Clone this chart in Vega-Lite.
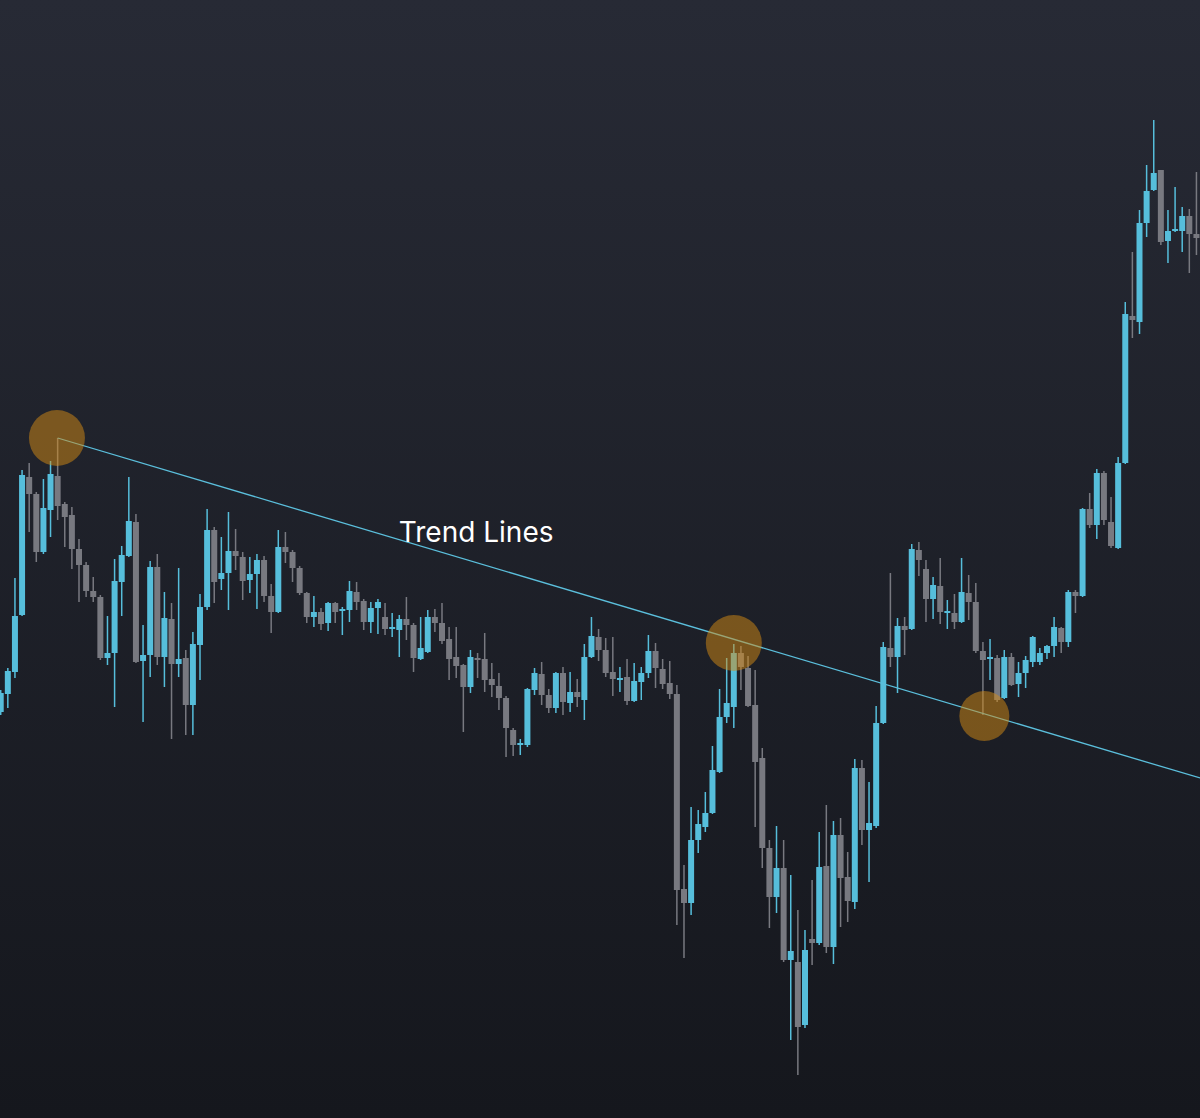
{
  "$schema": "https://vega.github.io/schema/vega-lite/v6.json",
  "width": 1200,
  "height": 1118,
  "autosize": {"type": "none"},
  "padding": 0,
  "background": "#1f222b",
  "config": {
    "view": {
      "stroke": null,
      "fill": {"gradient": "linear", "x1": 0, "y1": 0, "x2": 0, "y2": 1, "stops": [{"offset": 0, "color": "#272a35"}, {"offset": 1, "color": "#15171d"}]}
    }
  },
  "datasets": {
    "candles": [
      {"i":0,"o":406,"c":425,"h":428,"l":403},{"i":1,"o":424,"c":447,"h":450,"l":410},{"i":2,"o":446,"c":502,"h":540,"l":440},{"i":3,"o":503,"c":643,"h":648,"l":502},{"i":4,"o":641,"c":624,"h":655,"l":586},
      {"i":5,"o":624,"c":566,"h":626,"l":556},{"i":6,"o":566,"c":610,"h":639,"l":564},{"i":7,"o":608,"c":644,"h":657,"l":581},{"i":8,"o":642,"c":612,"h":680,"l":598},{"i":9,"o":614,"c":601,"h":616,"l":571},
      {"i":10,"o":603,"c":569,"h":611,"l":549},{"i":11,"o":569,"c":553,"h":579,"l":516},{"i":12,"o":553,"c":527,"h":556,"l":521},{"i":13,"o":527,"c":521,"h":541,"l":516},{"i":14,"o":521,"c":460,"h":523,"l":458},
      {"i":15,"o":460,"c":465,"h":502,"l":453},{"i":16,"o":465,"c":537,"h":559,"l":411},{"i":17,"o":536,"c":563,"h":572,"l":502},{"i":18,"o":562,"c":597,"h":641,"l":561},{"i":19,"o":596,"c":456,"h":604,"l":455},
      {"i":20,"o":457,"c":463,"h":493,"l":396},{"i":21,"o":463,"c":551,"h":557,"l":441},{"i":22,"o":551,"c":461,"h":564,"l":453},{"i":23,"o":461,"c":500,"h":526,"l":431},{"i":24,"o":499,"c":454,"h":515,"l":379},
      {"i":25,"o":454,"c":459,"h":550,"l":441},{"i":26,"o":460,"c":413,"h":468,"l":383},{"i":27,"o":413,"c":474,"h":486,"l":383},{"i":28,"o":473,"c":511,"h":524,"l":438},{"i":29,"o":511,"c":588,"h":609,"l":508},
      {"i":30,"o":588,"c":536,"h":591,"l":515},{"i":31,"o":539,"c":545,"h":581,"l":528},{"i":32,"o":545,"c":567,"h":606,"l":508},{"i":33,"o":567,"c":562,"h":589,"l":548},{"i":34,"o":561,"c":537,"h":566,"l":518},
      {"i":35,"o":538,"c":544,"h":561,"l":525},{"i":36,"o":544,"c":558,"h":564,"l":509},{"i":37,"o":558,"c":522,"h":562,"l":516},{"i":38,"o":522,"c":506,"h":534,"l":485},{"i":39,"o":506,"c":571,"h":588,"l":505},
      {"i":40,"o":571,"c":566,"h":586,"l":555},{"i":41,"o":566,"c":550,"h":568,"l":536},{"i":42,"o":550,"c":525,"h":552,"l":523},{"i":43,"o":525,"c":501,"h":526,"l":495},{"i":44,"o":501,"c":506,"h":522,"l":491},
      {"i":45,"o":506,"c":494,"h":510,"l":488},{"i":46,"o":495,"c":515,"h":516,"l":487},{"i":47,"o":515,"c":506,"h":516,"l":495},{"i":48,"o":507,"c":509,"h":511,"l":483},{"i":49,"o":508,"c":527,"h":537,"l":496},
      {"i":50,"o":526,"c":516,"h":536,"l":508},{"i":51,"o":517,"c":496,"h":519,"l":488},{"i":52,"o":496,"c":510,"h":516,"l":485},{"i":53,"o":510,"c":516,"h":519,"l":484},{"i":54,"o":501,"c":489,"h":515,"l":483},
      {"i":55,"o":489,"c":491,"h":505,"l":481},{"i":56,"o":488,"c":499,"h":503,"l":461},{"i":57,"o":499,"c":493,"h":521,"l":478},{"i":58,"o":493,"c":460,"h":495,"l":446},{"i":59,"o":459,"c":470,"h":501,"l":458},
      {"i":60,"o":466,"c":501,"h":508,"l":465},{"i":61,"o":501,"c":495,"h":509,"l":486},{"i":62,"o":495,"c":477,"h":515,"l":474},{"i":63,"o":479,"c":459,"h":491,"l":438},{"i":64,"o":461,"c":452,"h":491,"l":440},
      {"i":65,"o":453,"c":431,"h":454,"l":386},{"i":66,"o":431,"c":461,"h":468,"l":425},{"i":67,"o":460,"c":458,"h":465,"l":440},{"i":68,"o":459,"c":438,"h":485,"l":426},{"i":69,"o":439,"c":433,"h":455,"l":421},
      {"i":70,"o":432,"c":420,"h":445,"l":408},{"i":71,"o":420,"c":390,"h":422,"l":361},{"i":72,"o":388,"c":373,"h":390,"l":362},{"i":73,"o":373,"c":375,"h":379,"l":363},{"i":74,"o":373,"c":429,"h":430,"l":371},
      {"i":75,"o":428,"c":445,"h":450,"l":423},{"i":76,"o":444,"c":423,"h":456,"l":413},{"i":77,"o":423,"c":410,"h":429,"l":405},{"i":78,"o":410,"c":445,"h":446,"l":405},{"i":79,"o":445,"c":416,"h":451,"l":403},
      {"i":80,"o":415,"c":426,"h":446,"l":406},{"i":81,"o":426,"c":421,"h":439,"l":411},{"i":82,"o":418,"c":461,"h":474,"l":398},{"i":83,"o":461,"c":482,"h":501,"l":460},{"i":84,"o":481,"c":468,"h":489,"l":457},
      {"i":85,"o":468,"c":445,"h":480,"l":441},{"i":86,"o":446,"c":439,"h":481,"l":422},{"i":87,"o":438,"c":440,"h":451,"l":426},{"i":88,"o":441,"c":417,"h":459,"l":413},{"i":89,"o":417,"c":437,"h":455,"l":416},
      {"i":90,"o":436,"c":445,"h":451,"l":418},{"i":91,"o":445,"c":467,"h":483,"l":440},{"i":92,"o":467,"c":450,"h":475,"l":430},{"i":93,"o":449,"c":434,"h":459,"l":429},{"i":94,"o":435,"c":424,"h":457,"l":419},
      {"i":95,"o":424,"c":228,"h":433,"l":193},{"i":96,"o":229,"c":215,"h":253,"l":160},{"i":97,"o":215,"c":278,"h":311,"l":203},{"i":98,"o":278,"c":294,"h":308,"l":265},{"i":99,"o":291,"c":305,"h":326,"l":286},
      {"i":100,"o":305,"c":348,"h":372,"l":304},{"i":101,"o":346,"c":401,"h":429,"l":345},{"i":102,"o":401,"c":415,"h":460,"l":395},{"i":103,"o":411,"c":465,"h":474,"l":390},{"i":104,"o":465,"c":451,"h":472,"l":428},
      {"i":105,"o":450,"c":412,"h":462,"l":411},{"i":106,"o":413,"c":356,"h":448,"l":291},{"i":107,"o":360,"c":270,"h":370,"l":250},{"i":108,"o":270,"c":221,"h":278,"l":190},{"i":109,"o":221,"c":250,"h":292,"l":205},
      {"i":110,"o":250,"c":158,"h":278,"l":156},{"i":111,"o":158,"c":167,"h":243,"l":78},{"i":112,"o":156,"c":91,"h":208,"l":43},{"i":113,"o":93,"c":168,"h":188,"l":90},{"i":114,"o":179,"c":175,"h":238,"l":153},
      {"i":115,"o":175,"c":251,"h":286,"l":173},{"i":116,"o":252,"c":171,"h":313,"l":165},{"i":117,"o":171,"c":283,"h":297,"l":154},{"i":118,"o":283,"c":240,"h":300,"l":191},{"i":119,"o":241,"c":217,"h":266,"l":196},
      {"i":120,"o":216,"c":350,"h":359,"l":209},{"i":121,"o":350,"c":288,"h":358,"l":273},{"i":122,"o":288,"c":295,"h":336,"l":236},{"i":123,"o":292,"c":395,"h":412,"l":290},{"i":124,"o":395,"c":471,"h":476,"l":394},
      {"i":125,"o":470,"c":461,"h":545,"l":451},{"i":126,"o":461,"c":492,"h":500,"l":425},{"i":127,"o":492,"c":488,"h":501,"l":463},{"i":128,"o":489,"c":569,"h":574,"l":488},{"i":129,"o":568,"c":558,"h":576,"l":542},
      {"i":130,"o":549,"c":519,"h":558,"l":496},{"i":131,"o":519,"c":533,"h":541,"l":499},{"i":132,"o":532,"c":506,"h":560,"l":494},{"i":133,"o":505,"c":507,"h":518,"l":489},{"i":134,"o":505,"c":496,"h":524,"l":489},
      {"i":135,"o":496,"c":526,"h":560,"l":495},{"i":136,"o":525,"c":516,"h":543,"l":498},{"i":137,"o":516,"c":467,"h":535,"l":465},{"i":138,"o":467,"c":458,"h":476,"l":403},{"i":139,"o":459,"c":461,"h":479,"l":438},
      {"i":140,"o":460,"c":418,"h":463,"l":416},{"i":141,"o":420,"c":461,"h":468,"l":419},{"i":142,"o":461,"c":433,"h":465,"l":432},{"i":143,"o":434,"c":445,"h":456,"l":421},{"i":144,"o":445,"c":458,"h":462,"l":430},
      {"i":145,"o":456,"c":481,"h":482,"l":451},{"i":146,"o":456,"c":465,"h":470,"l":453},{"i":147,"o":465,"c":472,"h":473,"l":459},{"i":148,"o":472,"c":491,"h":501,"l":461},{"i":149,"o":490,"c":476,"h":491,"l":465},
      {"i":150,"o":476,"c":526,"h":528,"l":471},{"i":151,"o":526,"c":522,"h":528,"l":505},{"i":152,"o":522,"c":609,"h":610,"l":521},{"i":153,"o":609,"c":593,"h":625,"l":590},{"i":154,"o":593,"c":645,"h":649,"l":579},
      {"i":155,"o":645,"c":598,"h":647,"l":593},{"i":156,"o":596,"c":572,"h":621,"l":570},{"i":157,"o":570,"c":655,"h":661,"l":569},{"i":158,"o":655,"c":804,"h":816,"l":654},{"i":159,"o":802,"c":798,"h":866,"l":780},
      {"i":160,"o":796,"c":895,"h":908,"l":784},{"i":161,"o":895,"c":927,"h":953,"l":881},{"i":162,"o":928,"c":945,"h":998,"l":927},{"i":163,"o":948,"c":876,"h":948,"l":873},{"i":164,"o":877,"c":887,"h":908,"l":855},
      {"i":165,"o":887,"c":889,"h":931,"l":886},{"i":166,"o":887,"c":902,"h":911,"l":866},{"i":167,"o":902,"c":884,"h":909,"l":845},{"i":168,"o":884,"c":880,"h":946,"l":863}
    ],
    "trend": [{"i": 8, "p": 680}, {"i": 168.5, "p": 340}],
    "touches": [{"i": 7.9, "p": 680}, {"i": 103, "p": 475}, {"i": 138.2, "p": 402}],
    "label": [{"i": 66.8, "p": 584, "t": "Trend Lines"}]
  },
  "encoding": {
    "x": {"field": "i", "type": "quantitative", "scale": {"domain": [-0.1, 168.5], "nice": false, "zero": false, "padding": 0}, "axis": null}
  },
  "layer": [
    {
      "data": {"name": "candles"},
      "mark": {"type": "rule", "strokeWidth": 1.5, "clip": true},
      "encoding": {
        "y": {"field": "l", "type": "quantitative", "scale": {"domain": [0, 1118], "nice": false, "zero": false, "padding": 0}, "axis": null},
        "y2": {"field": "h"},
        "color": {"condition": {"test": "datum.c >= datum.o", "value": "#56bedb"}, "value": "#787980"}
      }
    },
    {
      "data": {"name": "candles"},
      "mark": {"type": "bar", "size": 6, "cornerRadius": 0, "clip": true},
      "encoding": {
        "y": {"field": "o", "type": "quantitative"},
        "y2": {"field": "c"},
        "color": {"condition": {"test": "datum.c >= datum.o", "value": "#56bedb"}, "value": "#787980"}
      }
    },
    {
      "data": {"name": "trend"},
      "mark": {"type": "line", "color": "#5bbfdc", "strokeWidth": 1.3, "clip": true},
      "encoding": {"y": {"field": "p", "type": "quantitative"}}
    },
    {
      "data": {"name": "touches"},
      "mark": {"type": "circle", "color": "#d68c14", "opacity": 0.5, "clip": true},
      "encoding": {
        "y": {"field": "p", "type": "quantitative"},
        "size": {"condition": {"test": "datum.i > 130", "value": 2500}, "value": 3136}
      }
    },
    {
      "data": {"name": "label"},
      "mark": {"type": "text", "font": "Inter", "fontSize": 28, "color": "#ffffff", "align": "center", "baseline": "middle"},
      "encoding": {
        "y": {"field": "p", "type": "quantitative"},
        "text": {"field": "t"}
      }
    }
  ]
}
